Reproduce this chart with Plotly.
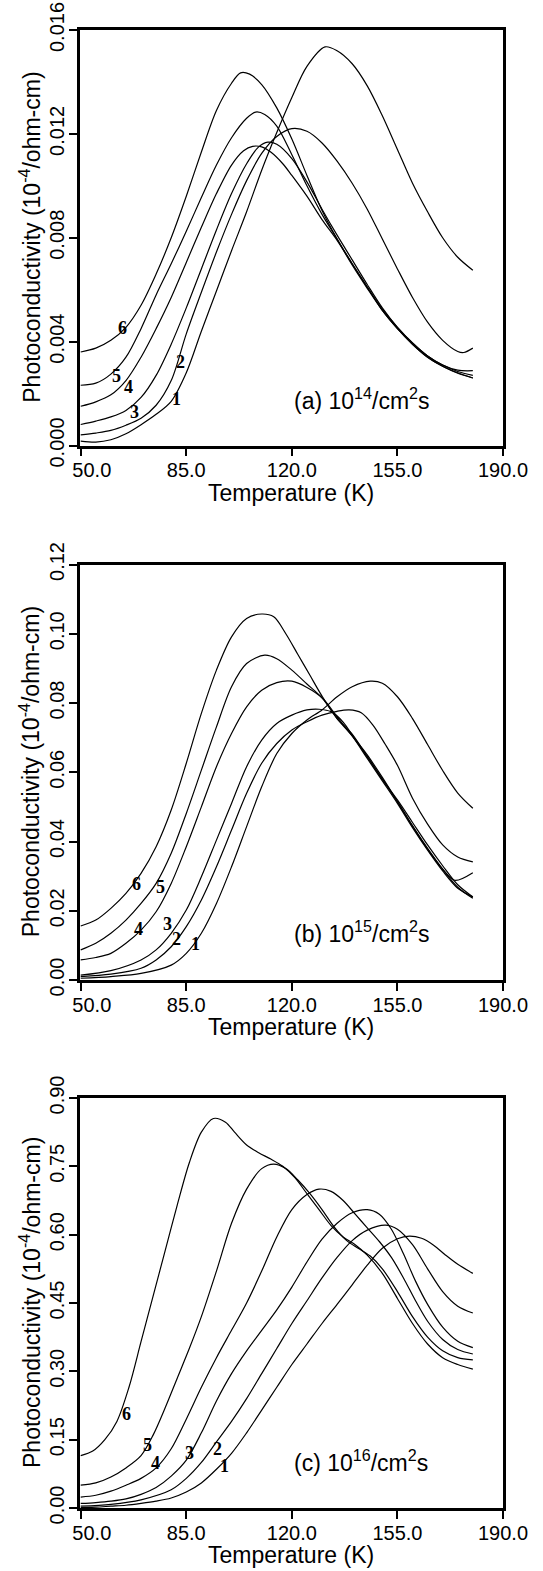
import plotly.graph_objects as go

# ---------------- data ----------------
# panel (a) 10^14 /cm^2 s   (values in 1e-3 units)
A1_T = [50,55,60,65,70,75,80,85,90,95,100,105,110,115,120,125,131,135,140,145,150,155,160,165,170,175,180]
A1_S = [0.17,0.13,0.22,0.45,0.8,1.2,1.7,2.8,4.4,5.95,7.5,9.0,10.6,12.05,13.4,14.6,15.35,15.2,14.7,13.85,12.7,11.4,10.1,9.0,8.0,7.25,6.75]
A2_T = [50,55,60,65,70,75,80,85,90,95,100,105,110,115,120,125,130,135,140,145,150,155,160,165,170,175,177,180]
A2_S = [0.41,0.48,0.58,0.78,1.05,1.55,2.5,4.3,5.9,7.45,8.9,10.2,11.25,11.9,12.2,12.1,11.65,10.95,10.1,9.1,7.95,6.8,5.7,4.75,4.05,3.62,3.58,3.75]
A3_T = [50,55,60,65,70,75,80,85,90,95,100,105,109,112,115,120,125,130,135,140,145,150,155,160,165,170,175,180]
A3_S = [0.81,0.94,1.1,1.35,1.85,2.7,3.9,5.3,6.8,8.3,9.7,10.85,11.5,11.68,11.6,11.05,10.15,9.1,8.1,7.15,6.2,5.3,4.55,3.95,3.45,3.1,2.9,2.88]
A4_T = [50,55,60,65,70,75,80,85,90,95,100,104,107,110,113,117,120,125,130,135,140,145,150,155,160,165,170,175,180]
A4_S = [1.51,1.68,1.95,2.5,3.4,4.5,5.7,7.05,8.4,9.7,10.8,11.35,11.52,11.5,11.3,10.85,10.4,9.6,8.7,7.9,7.0,6.1,5.2,4.5,3.9,3.4,3.05,2.78,2.6]
A5_T = [50,55,60,65,70,75,80,85,90,95,100,105,108,111,115,120,125,130,135,140,145,150,155,160,165,170,175,180]
A5_S = [2.32,2.4,2.75,3.4,4.5,5.8,7.0,8.25,9.55,10.8,11.85,12.6,12.84,12.75,12.3,11.2,10.0,8.9,7.95,7.0,6.1,5.25,4.55,3.95,3.45,3.1,2.85,2.7]
A6_T = [50,55,60,65,70,75,80,85,90,95,100,103,106,110,115,120,125,130,135,140,145,150,155,160,165,170,175,180]
A6_S = [3.6,3.75,4.05,4.55,5.4,6.6,8.0,9.6,11.3,12.9,13.95,14.35,14.3,13.9,13.0,11.8,10.4,9.05,7.95,6.95,6.05,5.2,4.5,3.9,3.4,3.05,2.8,2.6]

# panel (b) 10^15 /cm^2 s
B1_T = [50,60,70,80,85,90,95,100,105,110,115,120,125,130,135,140,146,150,155,160,165,170,175,180]
B1_S = [0.0005,0.001,0.0019,0.0043,0.0077,0.0135,0.0221,0.0327,0.0443,0.0558,0.0654,0.0712,0.0751,0.078,0.0818,0.0847,0.0863,0.0857,0.0818,0.0755,0.068,0.0605,0.054,0.0496]
B2_T = [50,60,70,75,80,85,90,95,100,105,110,115,120,125,130,135,139,143,147,151,155,160,165,170,175,180]
B2_S = [0.001,0.0017,0.0034,0.0058,0.0096,0.0154,0.0231,0.0327,0.0433,0.0539,0.0626,0.0683,0.0722,0.0746,0.0765,0.0776,0.078,0.0772,0.0735,0.068,0.062,0.0525,0.045,0.039,0.0355,0.0341]
B3_T = [50,60,70,75,80,85,90,95,100,105,110,115,120,125,129,133,137,141,145,150,155,160,165,170,174,180]
B3_S = [0.0014,0.0027,0.0058,0.0087,0.0135,0.0202,0.0298,0.0404,0.051,0.0616,0.0693,0.0741,0.0765,0.078,0.0782,0.0775,0.0745,0.0695,0.065,0.0585,0.0515,0.0445,0.0378,0.032,0.0288,0.031]
B4_T = [50,55,60,65,70,75,80,85,90,95,100,105,110,115,120,125,130,135,140,145,150,155,160,165,170,175,180]
B4_S = [0.0058,0.0065,0.0077,0.0106,0.0144,0.0197,0.0279,0.0385,0.05,0.0616,0.0712,0.0789,0.0837,0.0859,0.0863,0.0845,0.0815,0.076,0.0705,0.064,0.0575,0.051,0.044,0.0375,0.0315,0.0265,0.024]
B5_T = [50,55,60,65,70,75,80,85,90,95,100,105,111,115,120,125,130,135,140,145,150,155,160,165,170,175,180]
B5_S = [0.0087,0.0106,0.0135,0.0173,0.0221,0.0279,0.0366,0.0481,0.0606,0.0731,0.0847,0.0914,0.0938,0.0928,0.0895,0.0855,0.0815,0.0755,0.0705,0.0645,0.058,0.0515,0.0445,0.038,0.032,0.0268,0.0236]
B6_T = [50,55,60,65,70,75,80,85,90,95,100,105,110,114,118,122,126,130,135,140,145,150,155,160,165,170,175,180]
B6_S = [0.0156,0.0173,0.0207,0.025,0.0308,0.0385,0.0491,0.0626,0.077,0.0895,0.0991,0.1044,0.1057,0.1049,0.1,0.094,0.088,0.082,0.0755,0.071,0.0645,0.058,0.052,0.0455,0.039,0.033,0.0275,0.024]

# panel (c) 10^16 /cm^2 s
C1_T = [50,55,60,65,70,75,80,85,90,95,100,105,110,115,120,125,130,135,140,145,150,155,159,163,167,171,175,180]
C1_S = [0.001,0.002,0.004,0.006,0.01,0.015,0.022,0.035,0.055,0.085,0.12,0.165,0.215,0.265,0.315,0.36,0.405,0.447,0.49,0.533,0.57,0.591,0.597,0.592,0.577,0.555,0.535,0.515]
C2_T = [50,60,70,80,85,90,95,100,105,110,115,120,125,130,135,140,145,151,155,160,165,170,175,180]
C2_S = [0.004,0.008,0.018,0.04,0.065,0.1,0.145,0.19,0.24,0.295,0.35,0.405,0.455,0.505,0.55,0.587,0.61,0.621,0.612,0.578,0.525,0.475,0.443,0.428]
C3_T = [50,55,60,65,70,75,80,85,90,95,100,105,110,115,120,125,130,135,140,145,149,153,157,161,165,170,175,180]
C3_S = [0.01,0.012,0.015,0.02,0.03,0.045,0.07,0.105,0.165,0.235,0.295,0.345,0.39,0.435,0.485,0.54,0.59,0.625,0.648,0.655,0.645,0.612,0.558,0.498,0.447,0.397,0.366,0.352]
C4_T = [50,55,60,65,70,75,80,85,90,95,100,105,110,115,120,125,129,133,137,141,145,149,153,157,161,165,170,175,180]
C4_S = [0.024,0.028,0.037,0.05,0.065,0.088,0.13,0.195,0.265,0.33,0.39,0.45,0.52,0.595,0.655,0.688,0.7,0.695,0.675,0.645,0.615,0.585,0.55,0.505,0.455,0.41,0.37,0.348,0.338]
C5_T = [50,55,60,65,70,74,78,82,86,90,95,100,105,110,114,118,122,126,130,134,138,142,146,150,155,160,165,170,175,180]
C5_S = [0.05,0.055,0.068,0.088,0.115,0.16,0.22,0.285,0.35,0.42,0.52,0.625,0.7,0.745,0.755,0.745,0.72,0.69,0.655,0.617,0.588,0.57,0.553,0.525,0.475,0.42,0.375,0.345,0.33,0.325]
C6_T = [50,54,58,62,66,70,74,78,82,86,90,94,98,101,105,109,113,117,121,125,129,133,137,141,145,150,155,160,165,170,175,180]
C6_S = [0.115,0.125,0.15,0.19,0.265,0.365,0.465,0.565,0.665,0.758,0.825,0.855,0.847,0.825,0.797,0.78,0.766,0.75,0.725,0.69,0.655,0.62,0.595,0.578,0.555,0.515,0.46,0.405,0.36,0.33,0.315,0.305]

X_TICKS = [50, 85, 120, 155, 190]
X_TICKTEXT = ["\u00a0\u00a0\u00a0\u00a050.0", "85.0", "120.0", "155.0", "190.0"]
YA_TICKS = [0, 0.004, 0.008, 0.012, 0.016]
YA_TEXT = ["0.000", "0.004", "0.008", "0.012", "0.016"]
YB_TICKS = [0, 0.02, 0.04, 0.06, 0.08, 0.10, 0.12]
YB_TEXT = ["0.00", "0.02", "0.04", "0.06", "0.08", "0.10", "0.12"]
YC_TICKS = [0, 0.15, 0.30, 0.45, 0.60, 0.75, 0.90]
YC_TEXT = ["0.00", "0.15", "0.30", "0.45", "0.60", "0.75", "0.90"]

CURVE_NAMES = ["1", "2", "3", "4", "5", "6"]
LAB_A = [(81.8, 0.00178), (83.1, 0.00323), (67.7, 0.0013), (66.0, 0.00224), (61.9, 0.00268), (63.8, 0.00451)]
LAB_B = [(88.2, 0.0104), (81.8, 0.01175), (78.9, 0.0162), (69.3, 0.01464), (76.5, 0.0269), (68.5, 0.0277)]
LAB_C = [(97.7, 0.092), (95.3, 0.1298), (86.2, 0.121), (74.8, 0.0993), (72.1, 0.1385), (65.2, 0.206)]

PANEL_TEXT = ["(a) 10<sup>14</sup>/cm<sup>2</sup>s", "(b) 10<sup>15</sup>/cm<sup>2</sup>s", "(c) 10<sup>16</sup>/cm<sup>2</sup>s"]
PANEL_TEXT_Y = [0.0018, 0.014, 0.104]

# ---------------- figure ----------------
W, H = 543, 1571
fig = go.Figure()

panels = [
    ([(A1_T, [v * 1e-3 for v in A1_S]), (A2_T, [v * 1e-3 for v in A2_S]), (A3_T, [v * 1e-3 for v in A3_S]),
      (A4_T, [v * 1e-3 for v in A4_S]), (A5_T, [v * 1e-3 for v in A5_S]), (A6_T, [v * 1e-3 for v in A6_S])],
     YA_TICKS, YA_TEXT, LAB_A, (30, 445.5)),
    ([(B1_T, B1_S), (B2_T, B2_S), (B3_T, B3_S), (B4_T, B4_S), (B5_T, B5_S), (B6_T, B6_S)],
     YB_TICKS, YB_TEXT, LAB_B, (564.5, 980)),
    ([(C1_T, C1_S), (C2_T, C2_S), (C3_T, C3_S), (C4_T, C4_S), (C5_T, C5_S), (C6_T, C6_S)],
     YC_TICKS, YC_TEXT, LAB_C, (1098, 1508)),
]

FONT = "Liberation Sans, Arial, sans-serif"
left_px, right_px = 79.5, 503
annotations = []
layout_axes = {}
for i, (curves, yt, ytt, labs, (top, bot)) in enumerate(panels):
    n = i + 1
    xa = "x" if n == 1 else f"x{n}"
    ya = "y" if n == 1 else f"y{n}"
    for (t, s) in curves:
        fig.add_trace(go.Scatter(x=t, y=s, mode="lines", xaxis=xa, yaxis=ya,
                                 line=dict(color="black", width=1.2, shape="spline", smoothing=0.9),
                                 showlegend=False, hoverinfo="skip"))
    layout_axes["xaxis" if n == 1 else f"xaxis{n}"] = dict(
        domain=[left_px / W, right_px / W], anchor=ya, range=[49.6, 190], automargin=False,
        tickmode="array", tickvals=X_TICKS, ticktext=X_TICKTEXT, ticklabelstandoff=-3,
        ticks="outside", ticklen=8, tickwidth=1.5, tickcolor="black",
        showline=True, mirror=True, linewidth=2.5, linecolor="black",
        showgrid=False, zeroline=False, tickfont=dict(family=FONT, size=20, color="black"))
    layout_axes["yaxis" if n == 1 else f"yaxis{n}"] = dict(
        domain=[1 - bot / H, 1 - top / H], anchor=xa, range=[0, yt[-1]], automargin=False,
        tickmode="array", tickvals=yt, ticktext=ytt, tickangle=-90, ticklabelstandoff=-3,
        ticks="outside", ticklen=8, tickwidth=1.5, tickcolor="black",
        showline=True, mirror=True, linewidth=2.5, linecolor="black",
        showgrid=False, zeroline=False, tickfont=dict(family=FONT, size=20, color="black"))
    # axis titles
    annotations.append(dict(xref="paper", yref="paper", x=30 / W, y=1 - (top + bot) / 2 / H,
                            text="Photoconductivity (10<sup>-4</sup>/ohm-cm)", textangle=-90,
                            showarrow=False, xanchor="center", yanchor="middle",
                            font=dict(family=FONT, size=23, color="black")))
    annotations.append(dict(xref="paper", yref="paper", x=(left_px + right_px) / 2 / W, y=1 - (bot + 47) / H,
                            text="Temperature (K)", showarrow=False, xanchor="center", yanchor="middle",
                            font=dict(family=FONT, size=23, color="black")))
    annotations.append(dict(xref=xa, yref=ya, x=120, y=PANEL_TEXT_Y[i], text=PANEL_TEXT[i],
                            showarrow=False, xanchor="left", yanchor="middle",
                            font=dict(family=FONT, size=23, color="black")))
    for name, (lx, ly) in zip(CURVE_NAMES, labs):
        annotations.append(dict(xref=xa, yref=ya, x=lx, y=ly, text=f"<b>{name}</b>", showarrow=False,
                                xanchor="center", yanchor="middle",
                                font=dict(family="Liberation Serif, Times New Roman, serif", size=18, color="black")))

fig.update_layout(width=W, height=H, margin=dict(l=0, r=0, t=0, b=0, autoexpand=False),
                  paper_bgcolor="white", plot_bgcolor="white",
                  annotations=annotations, showlegend=False, **layout_axes)

fig.write_html("out.html", config={"displayModeBar": False},
               post_script="document.body.style.margin='0px';")
